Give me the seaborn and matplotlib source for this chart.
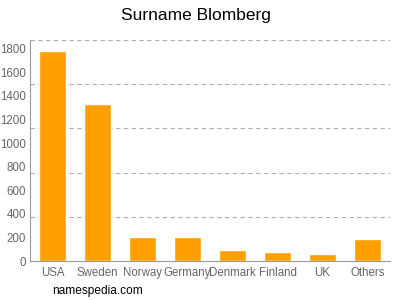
import matplotlib
matplotlib.use("Agg")
import matplotlib.pyplot as plt
import seaborn as sns
import numpy as np
import pandas as pd

countries = ["USA", "Sweden", "Norway", "Germany", "Denmark", "Finland", "UK", "Others"]
counts = [1785, 1330, 201, 200, 93, 79, 59, 189]
yticks = [0, 200, 400, 600, 800, 1000, 1200, 1400, 1600, 1800]

sns.set_style("white")
plt.rcParams['font.family'] = ['Liberation Sans', 'DejaVu Sans']

df = pd.DataFrame({"country": countries, "count": counts})

fig = plt.figure(figsize=(4, 3), dpi=100)
ax = fig.add_axes([0.075, 0.13, 0.9, 0.7367])
sns.barplot(data=df, x="country", y="count", color="#FFA000", saturation=1,
            width=0.62, ax=ax)

ymax = 1875
ax.set_ylim(0, ymax)
ax.set_xlim(-0.5, len(countries) - 0.5)
for g in np.linspace(0, ymax, 6)[1:]:
    ax.axhline(g, color="#b0b0b0", linestyle=(0, (4, 3)), linewidth=0.8, zorder=0)

ax.set_yticks(yticks)
ax.set_yticklabels([str(v) for v in yticks])
ax.tick_params(axis="y", length=0, labelsize=8.3, labelcolor="#666666", pad=3)
ax.tick_params(axis="x", length=3, color="#999999", labelsize=8.3, labelcolor="#666666", pad=1.5)
ax.set_xlabel("")
ax.set_ylabel("")
for s in ["top", "right"]:
    ax.spines[s].set_visible(False)
for s in ["left", "bottom"]:
    ax.spines[s].set_color("#999999")
    ax.spines[s].set_linewidth(0.8)

fig.text(0.49, 0.947, "Surname Blomberg", ha="center", va="center", fontsize=12.5, color="#000000")
fig.text(0.13, 0.03, "namespedia.com", ha="left", va="center", fontsize=8.6, color="#000000")

fig.savefig("out.png", dpi=100)
